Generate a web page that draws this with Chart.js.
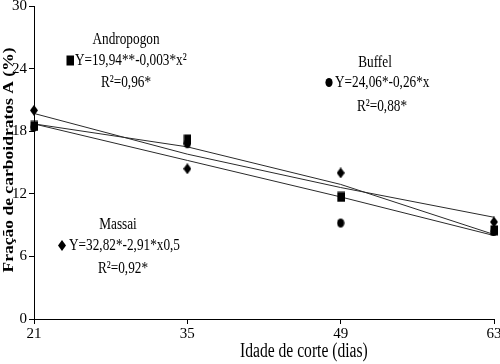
<!DOCTYPE html>
<html><head><meta charset="utf-8">
<script src="https://cdn.jsdelivr.net/npm/chart.js@4"></script>
<style>html,body{margin:0;padding:0;background:#fff}#wrap{width:500px;height:364px}</style>
</head><body><div id="wrap"><canvas id="c" width="500" height="364"></canvas></div>
<script>
const days = [21, 35, 49, 63];
const yTicks = [0, 6, 12, 18, 24, 30];
const andropogon = [18.5, 17.2, 11.7, 8.5];
const massai = [20.0, 14.4, 14.0, 9.3];
const buffel = [18.4, 16.8, 9.2, 8.4];
const andropogonFit = [18.7, 16.5, 12.9, 8.1];
const massaiFit = [19.7, 15.8, 12.6, 9.75];
const buffelFit = [18.7, 15.2, 11.7, 8.0];
const xTitle = 'Idade de corte (dias)';
const yTitle = 'Fração de carboidratos A (%)';
const notes = [
  {name: 'Andropogon', eq: 'Y=19,94**-0,003*x²', r2: 'R²=0,96*', marker: 'square'},
  {name: 'Buffel', eq: 'Y=24,06*-0,26*x', r2: 'R²=0,88*', marker: 'circle'},
  {name: 'Massai', eq: 'Y=32,82*-2,91*x0,5', r2: 'R²=0,92*', marker: 'diamond'}
];

function makeMarker(kind) {
  const c = document.createElement('canvas');
  c.width = 8; c.height = 11;
  const g = c.getContext('2d');
  g.fillStyle = '#000';
  if (kind === 'square') { g.fillRect(0.5, 0.5, 7.5, 10); }
  else if (kind === 'diamond') { g.beginPath(); g.moveTo(4, 0); g.lineTo(8, 5.5); g.lineTo(4, 11); g.lineTo(0, 5.5); g.closePath(); g.fill(); }
  else { g.beginPath(); g.ellipse(4, 5.5, 3.6, 4.6, 0, 0, Math.PI * 2); g.fill(); }
  return c;
}
const mk = {square: makeMarker('square'), diamond: makeMarker('diamond'), circle: makeMarker('circle')};

const pts = arr => days.map((d, i) => ({x: d, y: arr[i]}));
const lineDs = (arr) => ({type: 'line', data: pts(arr), borderColor: '#2a2a2a', borderWidth: 1, pointRadius: 0, fill: false, tension: 0, order: 5, clip: false});
const ptDs = (arr, kind, order) => ({type: 'scatter', data: pts(arr), pointStyle: mk[kind], pointRadius: 5, showLine: false, order: order, clip: false});

const fontFam = '"Liberation Serif", "Times New Roman", serif';

const textPlugin = {
  id: 'texts',
  afterDraw(chart) {
    const ctx = chart.ctx;
    ctx.save();
    ctx.fillStyle = '#000';
    ctx.textBaseline = 'middle';
    function txt(s, x, y, size, align, sx) {
      ctx.save();
      ctx.font = size + 'px ' + fontFam;
      ctx.translate(x, y);
      ctx.scale(sx, 1);
      ctx.textAlign = align;
      ctx.fillText(s, 0, 0);
      ctx.restore();
    }
    const S = 17, SX = 0.78;
    // Andropogon
    txt(notes[0].name, 126, 40, S, 'center', SX);
    ctx.drawImage(mk.square, 66, 55);
    txt(notes[0].eq, 75, 61, S, 'left', SX);
    txt(notes[0].r2, 126, 83, S, 'center', SX);
    // Buffel
    txt(notes[1].name, 375, 63, S, 'center', SX);
    ctx.drawImage(mk.circle, 325, 77);
    txt(notes[1].eq, 335, 83, S, 'left', SX);
    txt(notes[1].r2, 382, 107, S, 'center', SX);
    // Massai
    txt(notes[2].name, 118, 225, S, 'center', SX);
    ctx.drawImage(mk.diamond, 58, 240);
    txt(notes[2].eq, 69, 246, S, 'left', SX);
    txt(notes[2].r2, 123, 269, S, 'center', SX);
    // x title
    txt(xTitle, 240, 352, 20, 'left', SX);
    // y title
    ctx.save();
    ctx.translate(9, 160);
    ctx.rotate(-Math.PI / 2);
    ctx.scale(1.17, 1);
    ctx.font = 'bold 15px ' + fontFam;
    ctx.textAlign = 'center';
    ctx.fillText(yTitle, 0, 0);
    ctx.restore();
    ctx.restore();
  }
};

new Chart(document.getElementById('c'), {
  data: {
    datasets: [
      ptDs(andropogon, 'square', 1),
      ptDs(massai, 'diamond', 2),
      ptDs(buffel, 'circle', 3),
      lineDs(andropogonFit),
      lineDs(massaiFit),
      lineDs(buffelFit)
    ]
  },
  options: {
    responsive: false,
    animation: false,
    layout: {padding: {top: 4, right: 6, left: 0, bottom: 0}},
    plugins: {legend: {display: false}, tooltip: {enabled: false}},
    scales: {
      x: {
        type: 'linear', min: 21, max: 63,
        afterBuildTicks: s => { s.ticks = days.map(v => ({value: v})); },
        afterFit: s => { s.height = 45; s.paddingLeft = 0; s.paddingRight = 0; },
        border: {color: '#000', width: 1},
        grid: {drawOnChartArea: false, drawTicks: true, tickLength: 5, color: '#000'},
        ticks: {color: '#000', font: {family: fontFam, size: 15}, padding: 1, maxRotation: 0}
      },
      y: {
        type: 'linear', min: 0, max: 30,
        afterBuildTicks: s => { s.ticks = yTicks.map(v => ({value: v})); },
        afterFit: s => { s.width = 34; s.paddingTop = 0; s.paddingBottom = 0; },
        border: {color: '#000', width: 1},
        grid: {drawOnChartArea: false, drawTicks: true, tickLength: 5, color: '#000'},
        ticks: {color: '#000', font: {family: fontFam, size: 15}, padding: 2}
      }
    }
  },
  plugins: [textPlugin]
});
</script>
</body></html>
